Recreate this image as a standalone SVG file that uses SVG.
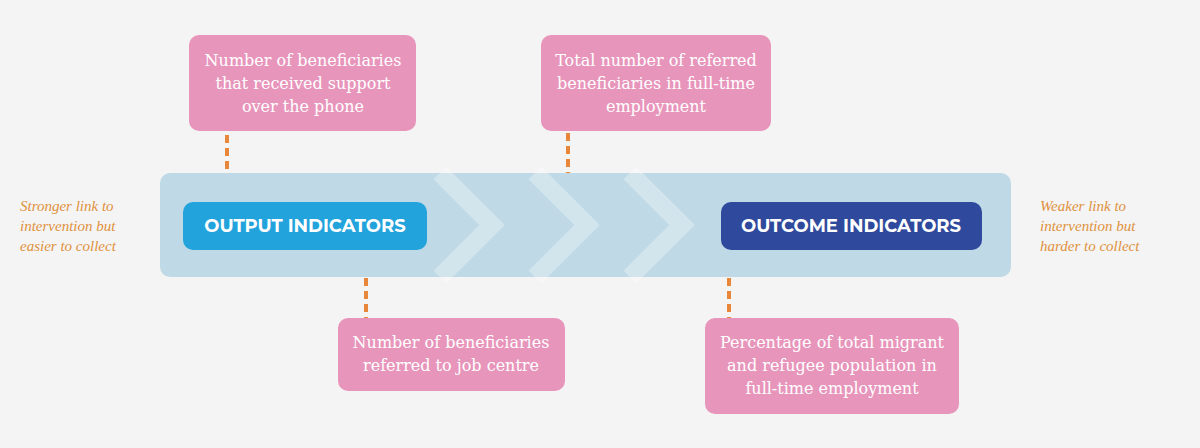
<svg xmlns="http://www.w3.org/2000/svg" width="1200" height="448" viewBox="0 0 1200 448">
<style>
.pink{fill:#e795bb}
.pt{font-family:"DejaVu Serif","Liberation Serif",serif;font-size:16px;fill:#fff;text-anchor:middle}
.ind{font-family:"Montserrat","Open Sans","Liberation Sans",sans-serif;font-weight:bold;font-size:18px;fill:#fff;text-anchor:middle}
.side{font-family:"Liberation Serif",serif;font-style:italic;font-size:15px;fill:#e0913c}
.dash{stroke:#e8873a;stroke-width:4;stroke-dasharray:8,5;fill:none}
.chev{stroke:#fff;stroke-opacity:0.3;stroke-width:18;fill:none}
</style>
<rect width="1200" height="448" fill="#f4f4f4"/>
<g id="band">
<rect x="160" y="173" width="851" height="104" rx="10" fill="#bfdae6"/>
<polyline class="chev" points="440,173 492,225 440,277"/>
<polyline class="chev" points="535,173 587,225 535,277"/>
<polyline class="chev" points="630,173 682,225 630,277"/>
</g>
<g id="connectors">
<line class="dash" x1="227" y1="135" x2="227" y2="173"/>
<line class="dash" x1="568" y1="133" x2="568" y2="173"/>
<line class="dash" x1="366" y1="278" x2="366" y2="318"/>
<line class="dash" x1="729" y1="278" x2="729" y2="318"/>
</g>
<g id="output"><rect x="183" y="202" width="244" height="48" rx="10" fill="#22a3dc"/><text class="ind" x="305" y="232">OUTPUT INDICATORS</text></g>
<g id="outcome"><rect x="721" y="202" width="261" height="48" rx="10" fill="#2f4a9c"/><text class="ind" x="851" y="232">OUTCOME INDICATORS</text></g>
<g id="top1"><rect class="pink" x="189" y="35" width="227" height="96" rx="10"/>
<text class="pt" x="303" y="66">Number of beneficiaries</text><text class="pt" x="303" y="89">that received support</text><text class="pt" x="303" y="112">over the phone</text></g>
<g id="top2"><rect class="pink" x="541" y="35" width="230" height="96" rx="10"/>
<text class="pt" x="656" y="66">Total number of referred</text><text class="pt" x="656" y="89">beneficiaries in full-time</text><text class="pt" x="656" y="112">employment</text></g>
<g id="bot1"><rect class="pink" x="338" y="318" width="227" height="73" rx="10"/>
<text class="pt" x="451" y="348">Number of beneficiaries</text><text class="pt" x="451" y="371">referred to job centre</text></g>
<g id="bot2"><rect class="pink" x="705" y="318" width="254" height="96" rx="10"/>
<text class="pt" x="832" y="348">Percentage of total migrant</text><text class="pt" x="832" y="371">and refugee population in</text><text class="pt" x="832" y="394">full-time employment</text></g>
<g id="left"><text class="side" x="20" y="211">Stronger link to</text><text class="side" x="20" y="231">intervention but</text><text class="side" x="20" y="251">easier to collect</text></g>
<g id="right"><text class="side" x="1040" y="211">Weaker link to</text><text class="side" x="1040" y="231">intervention but</text><text class="side" x="1040" y="251">harder to collect</text></g>
</svg>
